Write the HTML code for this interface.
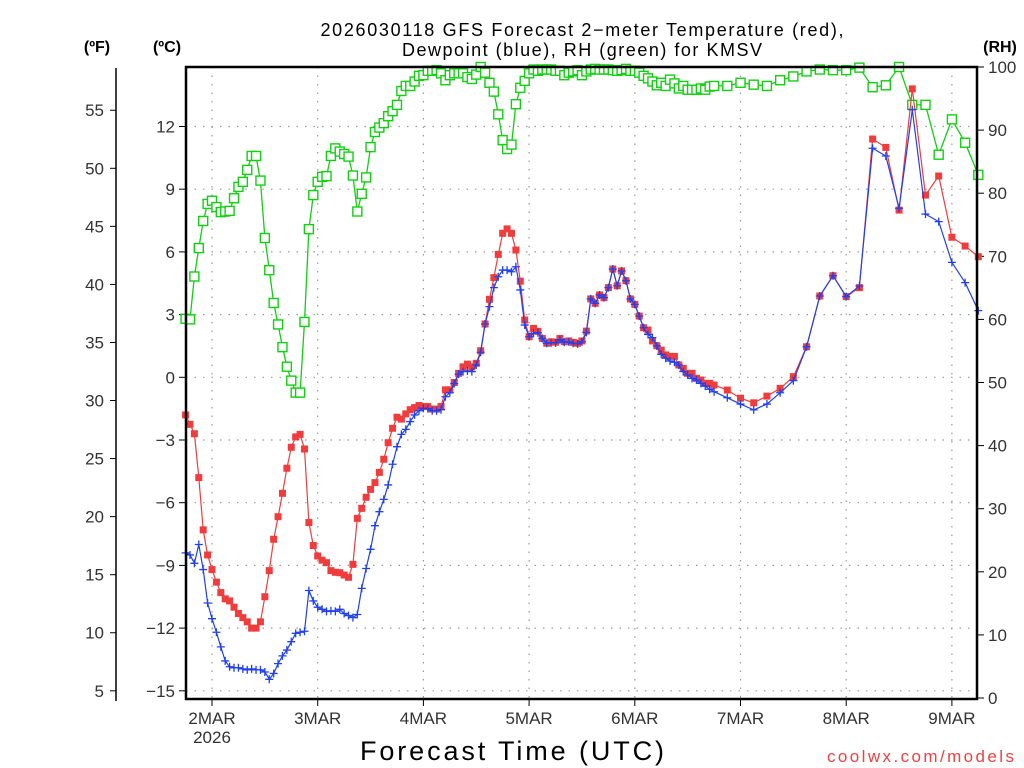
<!DOCTYPE html>
<html><head><meta charset="utf-8"><style>
body{margin:0;background:#fff;}
svg{display:block;font-family:"Liberation Sans",sans-serif;}
</style></head><body>
<svg id="chart" width="1024" height="768" viewBox="0 0 1024 768" xmlns="http://www.w3.org/2000/svg">
<rect x="0" y="0" width="1024" height="768" fill="#fff"/>
<g font-size="18" fill="#000" text-anchor="middle">
<text x="582" y="36" textLength="523" lengthAdjust="spacing">2026030118 GFS Forecast 2−meter Temperature (red),</text>
<text x="582" y="56" textLength="360" lengthAdjust="spacing">Dewpoint (blue), RH (green) for KMSV</text>
</g>
<text x="97" y="52" font-size="16" font-weight="bold" text-anchor="middle">(ºF)</text>
<text x="167" y="52" font-size="16" font-weight="bold" text-anchor="middle">(ºC)</text>
<text x="1000" y="52" font-size="16" font-weight="bold" text-anchor="middle">(RH)</text>
<g id="grid"></g>
<g id="axes"></g>
<g id="series"></g>
<rect x="186" y="67" width="791" height="632" fill="none" stroke="#000" stroke-width="2.5"/>
<text x="512" y="760" font-size="27" text-anchor="middle" textLength="304" lengthAdjust="spacing">Forecast Time (UTC)</text>
<text x="1014" y="762" font-size="17" fill="#f04040" text-anchor="end" textLength="187" lengthAdjust="spacing">coolwx.com/models</text>
</svg>
<script>
const hours=[0,1,2,3,4,5,6,7,8,9,10,11,12,13,14,15,16,17,18,19,20,21,22,23,24,25,26,27,28,29,30,31,32,33,34,35,36,37,38,39,40,41,42,43,44,45,46,47,48,49,50,51,52,53,54,55,56,57,58,59,60,61,62,63,64,65,66,67,68,69,70,71,72,73,74,75,76,77,78,79,80,81,82,83,84,85,86,87,88,89,90,91,92,93,94,95,96,97,98,99,100,101,102,103,104,105,106,107,108,109,110,111,112,113,114,115,116,117,118,119,120,123,126,129,132,135,138,141,144,147,150,153,156,159,162,165,168,171,174,177,180];
const tempC=[-1.8,-2.25,-2.7,-4.8,-7.3,-8.5,-9.2,-9.8,-10.3,-10.6,
-10.7,-11.0,-11.3,-11.5,-11.7,-12.0,-12.0,-11.7,-10.5,-9.25,
-7.75,-6.67,-5.55,-4.35,-3.35,-2.85,-2.73,-3.43,-6.95,-8.05,
-8.55,-8.75,-8.87,-9.25,-9.33,-9.35,-9.46,-9.57,-8.95,-6.75,
-6.27,-5.74,-5.36,-5.04,-4.55,-3.92,-3.13,-2.44,-1.91,-2.0,
-1.75,-1.55,-1.45,-1.35,-1.4,-1.4,-1.52,-1.52,-1.4,-0.6,
-0.6,-0.25,0.19,0.5,0.63,0.5,0.67,1.27,2.55,3.73,
4.77,5.88,6.89,7.1,6.89,6.09,4.6,2.74,1.94,2.34,
2.2,1.86,1.63,1.7,1.68,1.86,1.7,1.74,1.67,1.63,
1.74,2.21,3.75,3.54,3.94,3.81,4.29,5.18,4.38,5.09,
4.62,3.75,3.49,2.93,2.37,2.26,1.74,1.51,1.3,1.07,
1.0,1.0,0.59,0.43,0.19,0.19,-0.05,-0.13,-0.29,-0.29,
-0.37,
-0.61,-1.0,-1.22,-0.9,-0.53,0.03,1.46,3.89,4.86,3.86,4.29,11.4,11.0,8.0,13.8,8.72,9.63,6.7,6.28,5.77];
const dewC=[-8.4,-8.5,-8.9,-8.0,-9.2,-10.8,-11.55,-12.2,-12.9,-13.57,
-13.85,-13.9,-13.9,-13.95,-14.0,-13.95,-14.0,-14.0,-14.1,-14.45,
-14.17,-13.7,-13.33,-13.05,-12.65,-12.25,-12.2,-12.15,-10.2,-10.7,
-11.0,-11.1,-11.2,-11.17,-11.2,-11.1,-11.3,-11.4,-11.5,-11.35,
-10.1,-9.15,-8.23,-7.1,-6.43,-5.84,-5.15,-4.16,-3.32,-2.73,
-2.49,-2.12,-1.8,-1.6,-1.48,-1.5,-1.6,-1.6,-1.55,-0.93,
-0.74,-0.3,0.15,0.27,0.3,0.27,0.59,1.2,2.55,3.38,
4.29,4.81,5.13,5.13,5.05,5.29,4.18,2.5,1.94,2.1,
2.13,1.86,1.63,1.65,1.65,1.8,1.68,1.7,1.63,1.6,
1.7,2.15,3.75,3.54,3.94,3.81,4.29,5.18,4.38,5.09,
4.62,3.75,3.49,2.93,2.37,2.05,1.9,1.5,1.1,0.91,
0.78,0.72,0.59,0.27,0.11,-0.05,-0.13,-0.29,-0.42,-0.57,
-0.69,
-0.98,-1.28,-1.56,-1.28,-0.74,-0.16,1.46,3.89,4.86,3.86,4.37,10.96,10.59,8.09,12.8,7.81,7.45,5.5,4.53,3.19];
const rh=[60.1,60,66.8,71.3,75.6,78.3,78.8,77.8,77.0,77.1,
77.2,79.2,81.0,81.8,83.7,85.9,85.9,82.0,72.9,67.8,
62.6,59.2,55.6,52.5,50.3,48.4,48.4,59.6,74.3,79.7,
81.8,82.6,82.7,85.9,87.1,86.6,86.2,85.8,82.8,77.1,
79.9,82.5,87.3,89.7,90.4,91.1,92.2,93.0,94.0,96.2,
97.0,97.0,97.7,98.6,98.7,99.4,99.4,99.5,99.0,97.9,
98.7,99,99,99,98.4,98.1,98.8,100,99.1,97.5,
96.1,92.5,88.4,87.0,87.7,94.1,96.7,97.8,99,99.6,
99.4,99.6,99.6,99.6,99.4,99.4,98.7,99.1,99.3,99.5,
98.7,99.3,99.6,99.7,99.6,99.6,99.6,99.5,99.4,99.5,
99.7,99.4,99.4,99.1,98.6,98.2,97.7,97.1,97.5,97.0,
98,97.4,96.6,97.0,96.4,96.4,96.4,96.6,96.4,96.9,
97.0,
97.0,97.5,97.2,97.0,97.9,98.5,99.3,99.6,99.5,99.5,99.9,96.8,97.1,100,94.0,94.0,86.1,91.7,88.0,82.9];
const dayLabels=["2MAR","3MAR","4MAR","5MAR","6MAR","7MAR","8MAR","9MAR"];
const dayHours=[6,30,54,78,102,126,150,174];
const cTicks=[12,9,6,3,0,-3,-6,-9,-12,-15];
const cTickLabels=["12","9","6","3","0","−3","−6","−9","−12","−15"];
const fTicks=[55,50,45,40,35,30,25,20,15,10,5];
const rhTicks=[100,90,80,70,60,50,40,30,20,10,0];

const NS="http://www.w3.org/2000/svg";
const X0=186,X1=977,Y0=67,Y1=699;
function xH(h){return 212+(h-6)*105.7/24;}
function yC(c){return 377.3-c*20.9;}
function yF(f){return yC((f-32)/1.8);}
function yRH(r){return 698-r*6.31;}
function mk(tag,attrs,parent){const e=document.createElementNS(NS,tag);for(const k in attrs)e.setAttribute(k,attrs[k]);parent.appendChild(e);return e;}
const grid=document.getElementById('grid'),axes=document.getElementById('axes'),series=document.getElementById('series');

cTicks.forEach((c,i)=>{
  const y=yC(c);
  const g=mk('line',{x1:X0,x2:X1,y1:y,y2:y,stroke:'#999','stroke-width':1.2,'stroke-dasharray':'1.5,7'},grid);
  
  
  const t=mk('line',{x1:X0-7,x2:X0,y1:y,y2:y,stroke:'#000','stroke-width':1},axes);
  
  
  const l=mk('text',{x:X0-11,y:y+6,'font-size':17,'text-anchor':'end',fill:'#333'},axes);
  
  
  l.textContent=cTickLabels[i];
});
dayHours.forEach((h,i)=>{
  const x=xH(h);
  const g=mk('line',{x1:x,x2:x,y1:Y0,y2:Y1,stroke:'#999','stroke-width':1.2,'stroke-dasharray':'1.5,7'},grid);
  
  
  const t=mk('line',{x1:x,x2:x,y1:Y1,y2:Y1+7,stroke:'#000','stroke-width':1},axes);
  
  
  const l=mk('text',{x:x,y:724,'font-size':17,'text-anchor':'middle',fill:'#333'},axes);
  
  
  l.textContent=dayLabels[i];
});
const yr=mk('text',{x:xH(6),y:743,'font-size':17,'text-anchor':'middle',fill:'#333'},axes);


yr.textContent="2026";

const fl=mk('line',{x1:116,x2:116,y1:68,y2:701,stroke:'#000','stroke-width':1.5},axes);


fTicks.forEach(f=>{
  const y=yF(f);
  const t=mk('line',{x1:110,x2:116,y1:y,y2:y,stroke:'#000','stroke-width':1},axes);
  
  
  const l=mk('text',{x:104,y:y+6,'font-size':17,'text-anchor':'end',fill:'#333'},axes);
  
  
  l.textContent=String(f);
});
rhTicks.forEach(r=>{
  const y=yRH(r);
  const t=mk('line',{x1:X1,x2:X1+7,y1:y,y2:y,stroke:'#000','stroke-width':1},axes);
  
  
  const l=mk('text',{x:988,y:y+6,'font-size':17,'text-anchor':'start',fill:'#333'},axes);
  
  
  l.textContent=String(r);
});

function pts(vals,fy){return vals.map((v,i)=>xH(hours[i]).toFixed(1)+','+fy(v).toFixed(1)).join(' ');}
const gR=mk('g',{},series);


const lR=mk('polyline',{points:pts(rh,yRH),fill:'none',stroke:'#10d010','stroke-width':1.3},gR);


rh.forEach((v,i)=>{
  const x=xH(hours[i]),y=yRH(v);
  const m=mk('rect',{x:x-4.5,y:y-4.5,width:9,height:9,fill:'#fff',stroke:'#10d010','stroke-width':1.4},gR);
  
  
});
const gT=mk('g',{},series);


const lT=mk('polyline',{points:pts(tempC,yC),fill:'none',stroke:'#f03c3c','stroke-width':1.2},gT);


tempC.forEach((v,i)=>{
  const x=xH(hours[i]),y=yC(v);
  const m=mk('rect',{x:x-3.5,y:y-3.5,width:7,height:7,fill:'#f03c3c'},gT);
  
  
});
const gD=mk('g',{},series);


const lD=mk('polyline',{points:pts(dewC,yC),fill:'none',stroke:'#2040f0','stroke-width':1.2},gD);


dewC.forEach((v,i)=>{
  const x=xH(hours[i]),y=yC(v);
  const m=mk('path',{d:`M${x-4},${y}H${x+4}M${x},${y-4}V${y+4}`,stroke:'#2040f0','stroke-width':1.3,fill:'none'},gD);
  
  
});
</script>
</body></html>
